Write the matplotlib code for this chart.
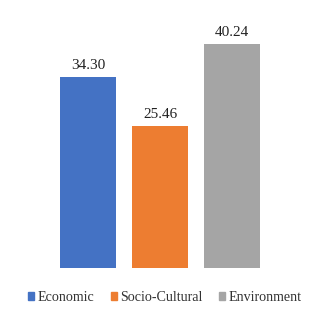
import matplotlib.pyplot as plt
from matplotlib.patches import Patch

categories = ["Economic", "Socio-Cultural", "Environment"]
values = [34.30, 25.46, 40.24]
colors = ["#4472c4", "#ed7d31", "#a5a5a5"]

plt.rcParams['font.family'] = ['Liberation Serif', 'DejaVu Serif']

fig = plt.figure(figsize=(3.2, 3.2), dpi=100)
ax = fig.add_axes([0.1625, 0.1625, 0.675, 0.783])

x = range(len(categories))
bars = ax.bar(x, values, width=0.78, color=colors)
for b, v in zip(bars, values):
    ax.annotate(f"{v:.2f}", (b.get_x() + b.get_width() / 2, v),
                xytext=(0, 3.5), textcoords="offset points",
                ha="center", va="bottom", fontsize=11, color="#222222")

ax.set_xlim(-0.5, 2.5)
ax.set_ylim(0, 45)
ax.axis("off")

handles = [Patch(color=c, label=l) for c, l in zip(colors, categories)]
fig.legend(handles=handles, loc="center", bbox_to_anchor=(0.515, 0.07),
           ncol=3, frameon=False, fontsize=10.1, handlelength=0.42,
           handleheight=0.5, handletextpad=0.25, columnspacing=1.2,
           labelcolor="#333333")

fig.savefig("out.png", dpi=100)
